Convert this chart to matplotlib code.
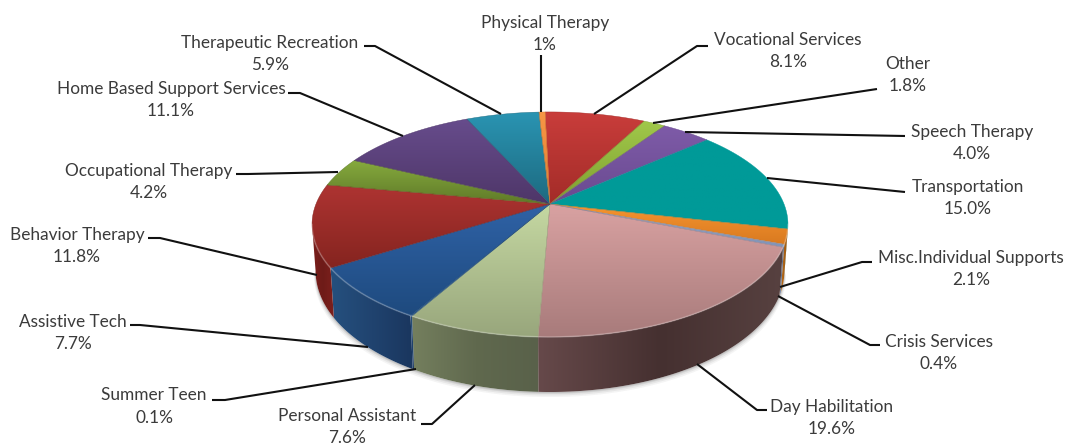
import numpy as np
import matplotlib
matplotlib.use("Agg")
import matplotlib.pyplot as plt
from matplotlib.colors import LinearSegmentedColormap
from matplotlib.patches import Polygon

# ---- data (clockwise from the top of the pie) ----
names = ["Vocational Services", "Other", "Speech Therapy", "Transportation",
         "Misc.Individual Supports", "Crisis Services", "Day Habilitation",
         "Personal Assistant", "Summer Teen", "Assistive Tech", "Behavior Therapy",
         "Occupational Therapy", "Home Based Support Services",
         "Therapeutic Recreation", "Physical Therapy"]
values = [8.1, 1.8, 4.0, 15.0, 2.1, 0.4, 19.6, 7.6, 0.1, 7.7, 11.8, 4.2, 11.1, 5.9, 0.5]
value_labels = ["8.1%", "1.8%", "4.0%", "15.0%", "2.1%", "0.4%", "19.6%", "7.6%", "0.1%",
                "7.7%", "11.8%", "4.2%", "11.1%", "5.9%", "1%"]

# ---- styles ----
top_hi = ["#c93d3b", "#a0c84a", "#7e5ba8", "#009a98", "#f79530", "#93a6c8", "#d9a2a2",
          "#c5d8a2", "#3a6cb0", "#2f62a6", "#ae3432", "#86aa3e", "#674c8c", "#2a94b2", "#f79646"]
top_lo = ["#a32c28", "#7f9f30", "#6a4a90", "#009a98", "#d97a20", "#8194b8", "#a87b7b",
          "#98a67c", "#24507f", "#1e4a7e", "#85241f", "#5f7a28", "#4e3668", "#1d6a80", "#e08030"]
wall_l = ["#701c1a", "#60802a", "#50386c", "#006e6c", "#b86a18", "#6a7a98", "#66494a",
          "#747f5e", "#27527f", "#25507e", "#7a1f1c", "#5f7a28", "#4e3668", "#1d6a80", "#b06018"]
wall_m = ["#701c1a", "#60802a", "#50386c", "#006e6c", "#a45e14", "#5a6a88", "#453030",
          "#60694e", "#1d3c66", "#20436f", "#6e1b18", "#5f7a28", "#4e3668", "#1d6a80", "#b06018"]
wall_r = ["#701c1a", "#60802a", "#50386c", "#006e6c", "#a45e14", "#5a6a88", "#574140",
          "#59614a", "#1a355c", "#1a365e", "#7d201d", "#5f7a28", "#4e3668", "#1d6a80", "#b06018"]

label_pos = [(788, 51), (908, 75), (972, 143), (968, 198), (971, 269), (939, 353),
             (832, 418), (347, 427), (154, 406.5), (73, 333), (77, 246), (149, 182),
             (171, 100), (270, 54), (545, 34)]
leaders = [[(594, 114), (697, 46), (708, 46)],
           [(653, 123), (877, 89)],
           [(685, 132), (905, 136)],
           [(767, 178), (905, 192)],
           [(780, 287), (862, 262), (872, 262)],
           [(778, 296), (870, 345), (880, 345)],
           [(697, 364), (757, 410), (767, 410)],
           [(475, 385), (432, 424), (421, 424)],
           [(416, 369), (225, 400), (212, 400)],
           [(368, 347), (140, 325), (130, 325)],
           [(317, 275), (160, 238), (148, 238)],
           [(338, 172), (248, 174), (236, 174)],
           [(403, 136), (300, 93), (288, 93)],
           [(501, 114), (375, 46), (364, 46)],
           [(541, 112), (541, 55)]]

# pie projection
CX, CY, K, A, B, D, START = 550, 204, 0.182, 108.8, 234, 45, -1.4
SHRINK = 0.985


def rim(theta_deg, low=False):
    t = np.radians(theta_deg)
    u, v = np.sin(t), np.cos(t)
    w = 1 + K * v
    x, y = B * u / w, -A * v / w
    if low:
        return CX + SHRINK * x, CY + y + D / w
    return CX + x, CY + y


def gradient(poly, c0, c1, c2=None, horizontal=False):
    xs, ys = poly[:, 0], poly[:, 1]
    cols = [c0, c1] if c2 is None else [c0, c1, c2]
    cmap = LinearSegmentedColormap.from_list("g", cols)
    ramp = np.linspace(0, 1, 128)
    arr = ramp[None, :] if horizontal else ramp[:, None]
    im = ax.imshow(arr, cmap=cmap, vmin=0, vmax=1, origin="upper", aspect="auto",
                   extent=(xs.min(), xs.max(), ys.max(), ys.min()),
                   interpolation="bilinear", zorder=3)
    patch = Polygon(poly, closed=True, transform=ax.transData, fc="none", ec="none")
    ax.add_patch(patch)
    im.set_clip_path(patch)


fig = plt.figure(figsize=(10.70, 4.46), dpi=100)
ax = fig.add_axes([0, 0, 1, 1])
ax.axis("off")

scale = 360.0 / sum(values)
edges = START + np.concatenate([[0], np.cumsum(values)]) * scale
vis_r = np.degrees(np.arccos(-K))
vis_l = 360 - vis_r

# soft shadow under the front wall
th = np.linspace(vis_r, vis_l, 200)
sx, sy = rim(th, low=True)
for grow, alpha in [(5, 0.05), (3.5, 0.07), (2, 0.10), (1, 0.12)]:
    ax.fill(np.r_[sx - np.sign(sx - CX) * -grow * 0.3, sx[::-1]], np.r_[sy + grow, sy[::-1]],
            color="#303030", alpha=alpha, lw=0, zorder=2)

# side wall
for i in range(len(values)):
    a0, a1 = max(edges[i], vis_r), min(edges[i + 1], vis_l)
    if a1 <= a0:
        continue
    th = np.linspace(a0, a1, 80)
    tx, ty = rim(th)
    bx, by = rim(th, low=True)
    poly = np.column_stack([np.r_[tx, bx[::-1]], np.r_[ty, by[::-1]]])
    gradient(poly, wall_l[i], wall_m[i], wall_r[i], horizontal=True)

# top face
for i in range(len(values)):
    th = np.linspace(edges[i], edges[i + 1], 80)
    tx, ty = rim(th)
    poly = np.column_stack([np.r_[CX, tx], np.r_[CY, ty]])
    gradient(poly, top_hi[i], top_lo[i])
    ax.add_patch(Polygon(poly, closed=True, fc="none", ec=top_lo[i], lw=0.3, zorder=4))

# pale highlight on the front edge
th = np.linspace(vis_r, vis_l, 200)
tx, ty = rim(th)
ax.plot(tx, ty, color="white", alpha=0.22, lw=1.2, zorder=5)

# labels and leader lines
for name, lab, pos, pts in zip(names, value_labels, label_pos, leaders):
    ax.text(pos[0], pos[1], name + "\n" + lab, ha="center", va="center", fontsize=12.45,
            family="Lato", color="#3b3b3b", linespacing=1.5, zorder=7)
    p = np.array(pts)
    ax.plot(p[:, 0], p[:, 1], color="#111111", lw=1.5, zorder=6, solid_capstyle="butt")

ax.set_xlim(0, 1070)
ax.set_ylim(446, 0)
fig.savefig("out.png", dpi=100, facecolor="white")
